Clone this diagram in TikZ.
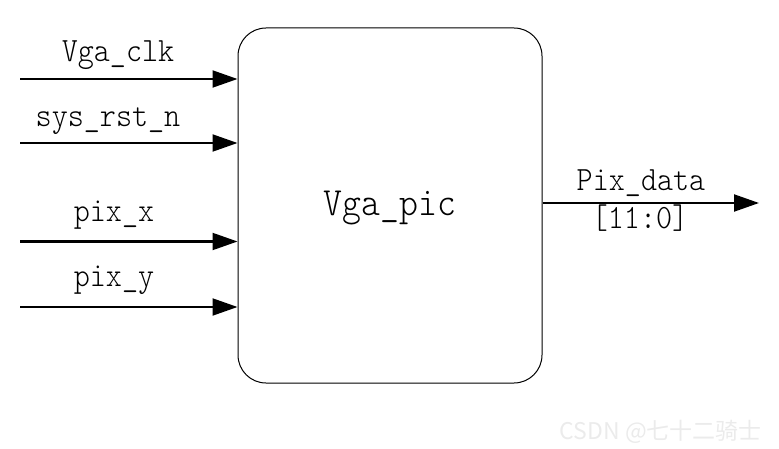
\documentclass[tikz,border=0pt]{standalone}
\usepackage{fontspec}
\usepackage{xcolor}
\usetikzlibrary{arrows.meta, positioning}
\newfontfamily\sigfont{lmmonolt10-regular.otf}[FakeStretch=0.9]
\newfontfamily\markfont{Noto Sans CJK SC}

\begin{document}
\begin{tikzpicture}[
        x=1pt, y=-1pt,
        module/.style={rectangle, rounded corners=28pt, draw, line width=1pt,
                       minimum width=304pt, minimum height=355pt},
        sig/.style={anchor=base, inner sep=0pt, font=\sigfont\fontsize{34}{34}\selectfont},
        arrow/.style={-{Triangle[length=25pt, width=17pt]}, line width=2pt}
    ]
        \useasboundingbox (0,0) rectangle (779,449);

        \node[module] (pic) at (390,205.5) {};
        \node[anchor=base, inner sep=0pt, font=\sigfont\fontsize{40}{40}\selectfont] (name) at (390,216) {Vga\_pic};

        \coordinate (clk) at (20,79);
        \coordinate (rst) at (20,143);
        \coordinate (px) at (20,241.5);
        \coordinate (py) at (20,307);
        \coordinate (dout) at (759,203);

        \node[sig] (clk_lbl) at (118,62) {Vga\_clk};
        \node[sig] (rst_lbl) at (108,127) {sys\_rst\_n};
        \node[sig] (px_lbl) at (114,221.5) {pix\_x};
        \node[sig] (py_lbl) at (114,286.5) {pix\_y};
        \node[sig] (dout_lbl) at (641,191) {Pix\_data};
        \node[sig] (dout_w) at (640,229) {[11:0]};

        \draw[arrow] (clk) -- (clk -| pic.west);
        \draw[arrow] (rst) -- (rst -| pic.west);
        \draw[arrow] (px) -- (px -| pic.west);
        \draw[arrow] (py) -- (py -| pic.west);
        \draw[arrow] (dout -| pic.east) -- (dout);

        \node[anchor=base east, inner sep=0pt, text=black!8,
              font=\markfont\fontsize{23}{23}\selectfont] (mark) at (762,439) {CSDN @七十二骑士};
    \end{tikzpicture}
\end{document}
